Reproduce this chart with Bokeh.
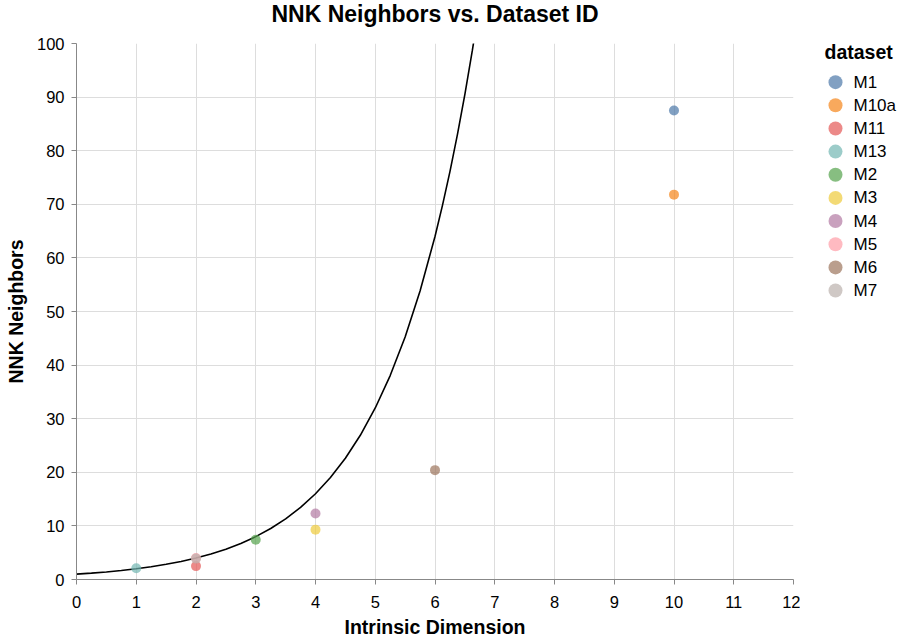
from bokeh.plotting import figure
from bokeh.models import Range1d, FixedTicker
from bokeh.layouts import row, column
from bokeh.core.properties import value
from bokeh.embed import file_html
from bokeh.resources import INLINE

# ---- data ----
title_text = "NNK Neighbors vs. Dataset ID"
datasets = ["M1", "M10a", "M11", "M13", "M2", "M3", "M4", "M5", "M6", "M7"]
intrinsic_dim = [10, 10, 2, 1, 3, 4, 4, 2, 6, 2]
nnk_neighbors = [87.5, 71.8, 2.5, 2.1, 7.4, 9.3, 12.3, 4.0, 20.4, 3.9]
colors = ["#4c78a8", "#f58518", "#e45756", "#72b7b2", "#54a24b",
          "#eeca3b", "#b279a2", "#ff9da6", "#9d755d", "#bab0ac"]

# curve values
curve_x = [0, 0.25, 0.5, 0.75, 1, 1.25, 1.5, 1.75, 2, 2.25, 2.5, 2.75, 3,
           3.25, 3.5, 3.75, 4, 4.25, 4.5, 4.75, 5, 5.25, 5.5, 5.75, 6,
           6.125, 6.25, 6.375, 6.5, 6.625, 6.75]
curve_y = [1.0, 1.19, 1.41, 1.68, 2.0, 2.38, 2.83, 3.36, 4.0, 4.76, 5.66,
           6.73, 8.0, 9.51, 11.31, 13.45, 16.0, 19.03, 22.63, 26.91, 32.0,
           38.05, 45.25, 53.82, 64.0, 69.8, 76.1, 83.0, 90.5, 98.7, 107.6]

x_ticks = list(range(0, 13))
y_ticks = list(range(0, 101, 10))

FONT = "Liberation Sans"
TITLE_H = 34
H = 606
TOP, BOTTOM = 9, 60
W_MAIN, LEFT, RIGHT = 800, 76, 7

# ---- title strip ----
tf = figure(width=W_MAIN, height=TITLE_H, output_backend="svg",
            toolbar_location=None, x_range=Range1d(0, 1),
            y_range=Range1d(TITLE_H, 0),
            min_border_left=LEFT, min_border_right=RIGHT,
            min_border_top=0, min_border_bottom=0,
            x_axis_location=None, y_axis_location=None)
tf.outline_line_color = None
tf.grid.visible = False
tf.text([0.5], [13.5], text=[title_text], text_font=value(FONT),
        text_font_size="23px", text_font_style="bold", text_color="#000",
        text_align="center", text_baseline="middle")

# ---- main plot ----
p = figure(width=W_MAIN, height=H, output_backend="svg", toolbar_location=None,
           x_range=Range1d(0, 12), y_range=Range1d(0, 100),
           min_border_left=LEFT, min_border_right=RIGHT,
           min_border_top=TOP, min_border_bottom=BOTTOM)
p.outline_line_color = None
p.background_fill_color = "white"

for ax in (p.xaxis[0], p.yaxis[0]):
    ax.axis_line_color = "#888"
    ax.major_tick_line_color = "#888"
    ax.major_tick_out = 5
    ax.major_tick_in = 0
    ax.minor_tick_line_color = None
    ax.major_label_text_font = FONT
    ax.major_label_text_font_size = "16.5px"
    ax.major_label_text_color = "#000"
    ax.axis_label_text_font = FONT
    ax.axis_label_text_font_size = "19.5px"
    ax.axis_label_text_font_style = "bold"
    ax.axis_label_text_color = "#000"

p.xaxis.ticker = FixedTicker(ticks=x_ticks)
p.yaxis.ticker = FixedTicker(ticks=y_ticks)
p.xaxis.axis_label = "Intrinsic Dimension"
p.yaxis.axis_label = "NNK Neighbors"
p.xaxis.major_label_standoff = 11
p.yaxis.major_label_standoff = 7
p.xaxis.axis_label_standoff = 5
p.yaxis.axis_label_standoff = 7

p.xgrid.ticker = FixedTicker(ticks=x_ticks)
p.ygrid.ticker = FixedTicker(ticks=y_ticks)
p.grid.grid_line_color = "#dddddd"
p.grid.grid_line_width = 1

p.line(curve_x, curve_y, line_color="black", line_width=1.6)

for i, name in enumerate(datasets):
    p.scatter([intrinsic_dim[i]], [nnk_neighbors[i]], size=10,
              fill_color=colors[i], fill_alpha=0.7, line_color=None)

# ---- legend as a companion figure (frame shares the main frame's rows) ----
LW = 99
FRAME_TOP = TITLE_H + TOP
FRAME_BOTTOM = TITLE_H + H - BOTTOM
leg = figure(width=LW, height=H, output_backend="svg", toolbar_location=None,
             x_range=Range1d(0, LW), y_range=Range1d(FRAME_BOTTOM, FRAME_TOP),
             min_border_left=0, min_border_right=0,
             min_border_top=TOP, min_border_bottom=BOTTOM,
             x_axis_location=None, y_axis_location=None)
leg.outline_line_color = None
leg.grid.visible = False

row_y = [81.7 + i * 23.2 for i in range(len(datasets))]
leg.scatter([35] * len(datasets), row_y, size=14, fill_color=colors,
            fill_alpha=0.7, line_color=None)
leg.text([53] * len(datasets), row_y, text=datasets,
         text_font=value(FONT), text_font_size="17px",
         text_baseline="middle", text_align="left", text_color="#000")
leg.text([24], [51.5], text=["dataset"], text_font=value(FONT),
         text_font_size="19.5px", text_font_style="bold",
         text_baseline="middle", text_align="left", text_color="#000")

layout = column(tf, row(p, leg, spacing=0), spacing=0)
open("out.html", "w").write(file_html(layout, INLINE))
